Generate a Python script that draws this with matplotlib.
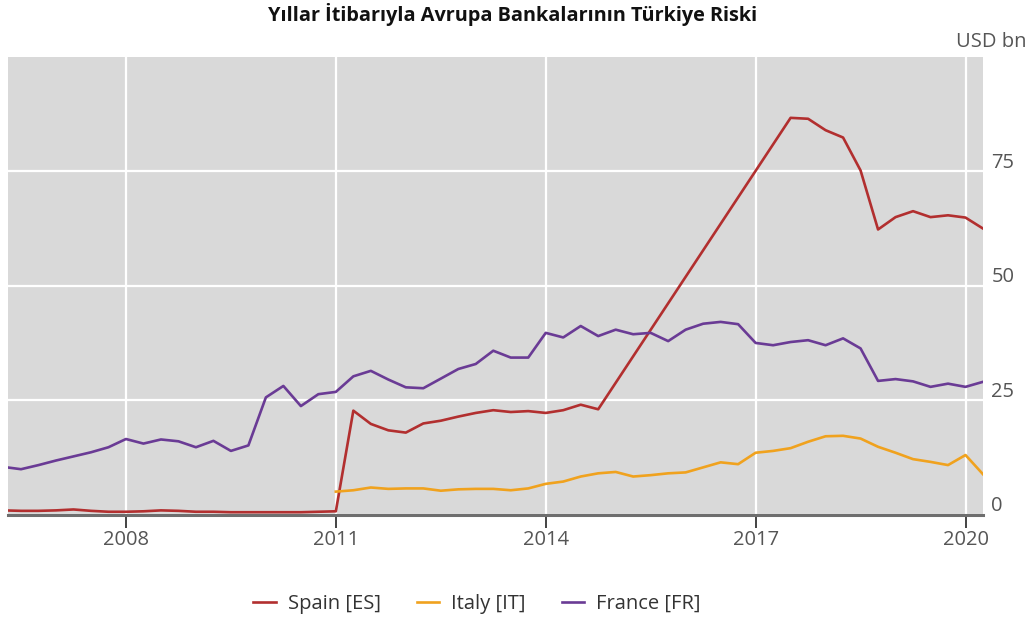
import matplotlib
matplotlib.use('Agg')
import matplotlib.pyplot as plt
import matplotlib.transforms as mtransforms
import numpy as np

plt.rcParams['font.family'] = ['Open Sans', 'DejaVu Sans']

# quarterly data, 2006Q1 .. 2020Q1 (USD bn)
first_year = 2006
n_quarters = 57

spain = [0.9, 0.8, 0.8, 0.9,
         1.1, 0.8, 0.6, 0.6,
         0.7, 0.9, 0.8, 0.6,
         0.6, 0.5, 0.5, 0.5,
         0.5, 0.5, 0.6, 0.7,
         22.7, 19.8, 18.4, 17.9,
         19.9, 20.5, 21.4, 22.2,
         22.8, 22.4, 22.6, 22.2,
         22.8, 24.0, 23.0, np.nan,
         np.nan, np.nan, np.nan, np.nan,
         np.nan, np.nan, np.nan, np.nan,
         np.nan, 86.7, 86.5, 84.0,
         82.4, 75.2, 62.3, 65.0,
         66.3, 65.0, 65.4, 64.9,
         62.5]

italy = [np.nan] * 19 + [5.0,
         5.3, 5.9, 5.6, 5.7,
         5.7, 5.2, 5.5, 5.6,
         5.6, 5.3, 5.7, 6.7,
         7.2, 8.3, 9.0, 9.3,
         8.3, 8.6, 9.0, 9.2,
         10.3, 11.4, 11.0, 13.5,
         13.9, 14.5, 15.9, 17.1,
         17.2, 16.6, 14.8, 13.5,
         12.1, 11.5, 10.8, 13.0,
         8.8]

france = [10.4, 9.9, 10.8, 11.8,
          12.7, 13.6, 14.7, 16.5,
          15.5, 16.4, 16.0, 14.7,
          16.1, 13.9, 15.1, 25.6,
          28.1, 23.7, 26.3, 26.8,
          30.2, 31.4, 29.5, 27.8,
          27.6, 29.7, 31.8, 32.9,
          35.8, 34.3, 34.3, 39.7,
          38.7, 41.2, 39.0, 40.4,
          39.4, 39.7, 37.9, 40.4,
          41.7, 42.1, 41.6, 37.5,
          37.0, 37.7, 38.1, 37.0,
          38.5, 36.3, 29.2, 29.6,
          29.1, 27.9, 28.6, 27.9,
          29.0]

series_names = ['Spain [ES]', 'Italy [IT]', 'France [FR]']
series_colors = ['#b22f2f', '#f0a21e', '#6a3b95']
x_ticks = [2008, 2011, 2014, 2017, 2020]
y_ticks = [0, 25, 50, 75]

# quarter end as decimal year
t = first_year + 0.25 * np.arange(1, n_quarters + 1)

fig = plt.figure(figsize=(10.32, 6.22), dpi=100)
ax = fig.add_axes([8 / 1032, 1 - 514.5 / 622, 975 / 1032, 457.5 / 622])
ax.set_facecolor('#d9d9d9')

for vals, name, col in zip([spain, italy, france], series_names, series_colors):
    v = np.array(vals, dtype=float)
    m = ~np.isnan(v)
    ax.plot(t[m], v[m], color=col, lw=1.9, label=name, zorder=3,
            solid_joinstyle='round')

ax.set_xlim(2006.314, 2020.25)
ax.set_ylim(0, 100)
ax.set_xticks(x_ticks)
ax.set_yticks(y_ticks)
ax.yaxis.tick_right()
ax.grid(True, color='white', lw=1.6, zorder=1)
ax.set_axisbelow(True)

for s in ['top', 'left', 'right']:
    ax.spines[s].set_visible(False)
ax.spines['bottom'].set_color('#6e6e6e')
ax.spines['bottom'].set_linewidth(2.2)
ax.spines['bottom'].set_zorder(2)

ax.tick_params(axis='x', length=9, width=1.2, color='#222222', pad=2,
               labelsize=14.5, labelcolor='#555555')
ax.tick_params(axis='y', length=0, pad=6, labelsize=14.5, labelcolor='#555555')

# y labels sit just above their gridline
off = mtransforms.ScaledTranslation(0, 11 / 100, fig.dpi_scale_trans)
for lab in ax.get_yticklabels():
    lab.set_transform(lab.get_transform() + off)

fig.text(513 / 1032, 1 - 14 / 622, 'Yıllar İtibarıyla Avrupa Bankalarının Türkiye Riski',
         ha='center', va='center', fontsize=14.3, fontweight='bold', color='#111111')
fig.text(1027 / 1032, 1 - 42 / 622, 'USD bn', ha='right', va='center',
         fontsize=14.5, color='#555555')

fig.legend(loc='center', bbox_to_anchor=(477 / 1032, 1 - 604 / 622), ncol=3,
           frameon=False, fontsize=14.5, handlelength=1.1, handletextpad=0.6,
           columnspacing=1.8, labelcolor='#333333')

plt.savefig('out.png', dpi=100)
plt.close()
